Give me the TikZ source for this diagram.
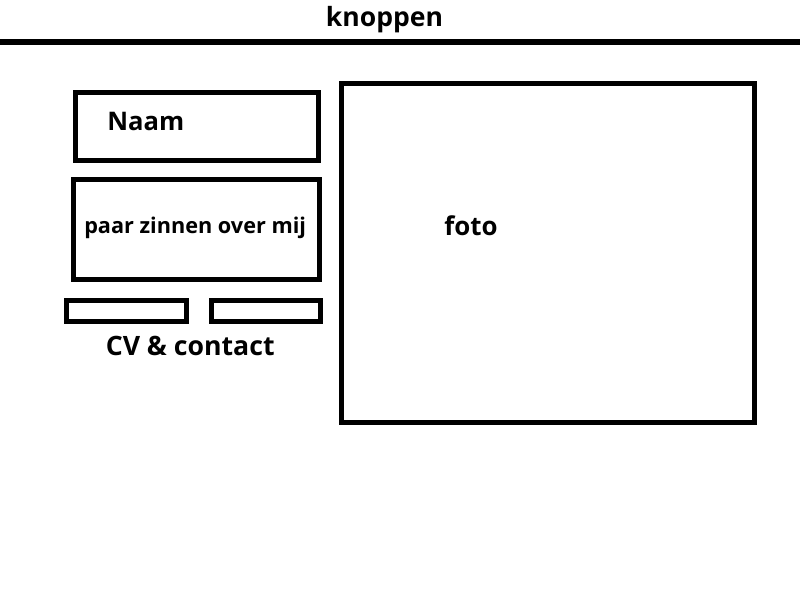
\documentclass[tikz,border=0pt]{standalone}
\usepackage{fontspec}
\setmainfont{Open Sans}
\begin{document}
\begin{tikzpicture}[x=0.75pt,y=-0.75pt,
  box/.style={draw=black,line width=3.75pt,fill=none},
  lbl/.style={inner sep=0pt,anchor=base west,font=\bfseries}]
\useasboundingbox (0,0) rectangle (800,600);
\fill[white] (0,0) rectangle (800,600);
% top bar
\coordinate (barL) at (0,42);
\coordinate (barR) at (800,42);
\draw[line width=4.1pt] (barL) -- (barR);
\node[inner sep=0pt,anchor=base,font=\bfseries\fontsize{19.9}{24}\selectfont] (knoppen) at (384.5,26.7) {knoppen};
% boxes
\draw[box] (75.5,92) rectangle (318,160.5);
\node[lbl,font=\bfseries\fontsize{19.2}{23}\selectfont] (naam) at (107,130.7) {Naam};
\draw[box] (73,179.7) rectangle (319.7,279);
\node[lbl,font=\bfseries\fontsize{16.25}{20}\selectfont] (paar) at (84,233.3) {paar zinnen over mij};
\draw[box] (66.7,300.8) rectangle (186,321.5);
\draw[box] (211.7,300.8) rectangle (320.8,321.5);
\node[lbl,font=\bfseries\fontsize{20}{24}\selectfont] (cv) at (105.5,355) {CV \& contact};
\draw[box] (341.5,83) rectangle (754,422);
\node[lbl,font=\bfseries\fontsize{19.4}{23}\selectfont] (foto) at (444,235) {foto};
\end{tikzpicture}
\end{document}
